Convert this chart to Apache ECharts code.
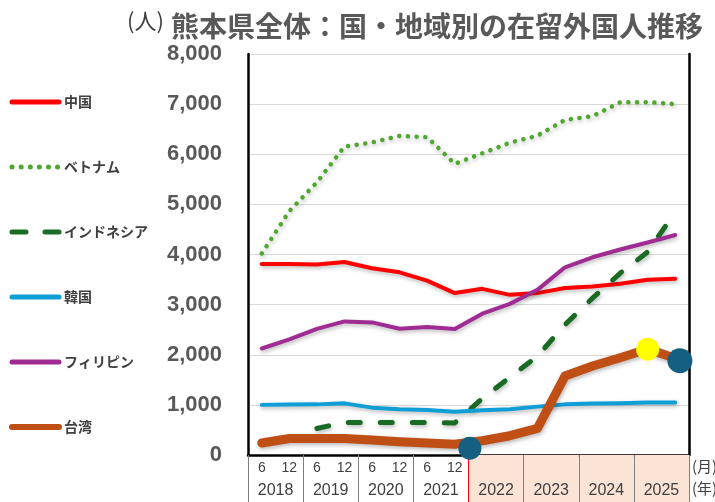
<!DOCTYPE html>
<html>
<head>
<meta charset="utf-8">
<script src="https://cdn.jsdelivr.net/npm/echarts@6/dist/echarts.min.js"></script>
<style>
  html, body { margin: 0; padding: 0; background: #fff; }
  #chart { width: 715px; height: 502px; }
</style>
</head>
<body>
<div id="chart"></div>
<script>
// 年・月（半年ごと）
const years = ['2018', '2019', '2020', '2021', '2022', '2023', '2024', '2025'];
const months = ['6', '12'];
const shadedYears = ['2022', '2023', '2024', '2025']; // 表の色付け部分

// 国・地域別の在留外国人数（人）
const seriesNames = ['中国', 'ベトナム', 'インドネシア', '韓国', 'フィリピン', '台湾'];
const china = [3810, 3810, 3800, 3850, 3725, 3645, 3480, 3230, 3315, 3195, 3230, 3330, 3360, 3415, 3495, 3515];
const vietnam = [4020, 4865, 5440, 6155, 6235, 6365, 6340, 5810, 6020, 6230, 6370, 6685, 6760, 7035, 7040, 7000];
const indonesia = [null, null, 530, 650, 650, 650, 650, 640, 1125, 1550, 1970, 2600, 3130, 3625, 4050, 4850];
const korea = [1000, 1005, 1010, 1030, 945, 915, 900, 865, 895, 915, 965, 1010, 1025, 1030, 1045, 1045];
const philippines = [2125, 2305, 2515, 2665, 2645, 2520, 2555, 2515, 2820, 3015, 3295, 3745, 3945, 4100, 4240, 4390];
const taiwan = [240, 330, 330, 330, 300, 265, 240, 215, 285, 385, 530, 1575, 1775, 1940, 2115, 1930];

// 強調マーカー（x は半年単位の位置, y は人数）
const markerX = [8.05, 14.5, 15.67];
const markerY = [135, 2110, 1880];
const markerColors = ['#156082', '#FFFF00', '#156082'];
const markerSizes = [23, 23, 25];

const categories = [];
years.forEach(y => months.forEach(m => categories.push(y + '/' + m)));

const colors = {
    china: '#FF0000',
    vietnam: '#4EA72E',
    indonesia: '#196B24',
    korea: '#0F9ED5',
    philippines: '#A02B93',
    taiwan: '#C04F15',
};
const shadow = { shadowBlur: 4, shadowColor: 'rgba(0,0,0,0.28)', shadowOffsetY: 2, shadowOffsetX: 1 };
const textGrey = '#595959';

function lineSeries(name, data, color, extra) {
    return {
        name: name,
        type: 'line',
        xAxisIndex: 0,
        yAxisIndex: 0,
        data: data,
        symbol: 'none',
        connectNulls: false,
        color: color,
        lineStyle: Object.assign({ color: color, width: 4, cap: 'round', join: 'round' }, shadow, extra || {}),
        z: 3,
    };
}

// 凡例の線スタイル（マーカーなし）
const legendLine = {
    '中国': { width: 5 },
    'ベトナム': { width: 5, type: [0.1, 9], cap: 'round' },
    'インドネシア': { width: 5, type: [14, 19], cap: 'round' },
    '韓国': { width: 5 },
    'フィリピン': { width: 5 },
    '台湾': { width: 6 },
};

const chart = echarts.init(document.getElementById('chart'), null, { renderer: 'canvas' });

const option = {
    animation: false,
    title: {
        text: '熊本県全体：国・地域別の在留外国人推移',
        left: 166,
        top: 7,
        textStyle: { fontSize: 28, fontWeight: 'bold', color: textGrey, fontFamily: 'Noto Sans CJK JP' },
    },
    legend: {
        orient: 'vertical',
        left: 9,
        top: 95,
        padding: 0,
        itemWidth: 47,
        itemHeight: 14,
        itemGap: 51,
        itemStyle: { opacity: 0 },
        textStyle: { fontSize: 14, fontWeight: 'bold', color: '#404040', fontFamily: 'Noto Sans CJK JP' },
        data: seriesNames.map(n => ({ name: n, lineStyle: Object.assign({ cap: 'round', shadowBlur: 0, shadowOffsetX: 0, shadowOffsetY: 0 }, legendLine[n]) })),
    },
    grid: [
        { left: 248, right: 26, top: 54, bottom: 47 },
        { left: 248, right: 26, top: 455, bottom: 0 },
    ],
    xAxis: [
        {
            type: 'category',
            gridIndex: 0,
            data: categories,
            position: 'bottom',
            axisLine: { lineStyle: { color: '#808080', width: 1 } },
            axisTick: { show: false },
            axisLabel: {
                interval: 0,
                margin: 6,
                fontSize: 14,
                color: '#404040',
                fontFamily: 'Liberation Sans',
                formatter: v => v.split('/')[1],
            },
            splitLine: { show: false },
        },
        {
            type: 'value',
            gridIndex: 0,
            min: 0,
            max: 16,
            position: 'top',
            axisLine: { show: true, lineStyle: { color: '#000', width: 2.5 } },
            axisTick: { show: false },
            axisLabel: { show: false },
            splitLine: { show: false },
        },
        {
            type: 'category',
            gridIndex: 1,
            data: years,
            position: 'bottom',
            z: 5,
            axisLine: { show: false },
            axisTick: { show: false },
            axisLabel: {
                inside: true,
                margin: 3,
                interval: 0,
                fontSize: 16,
                color: '#404040',
                fontFamily: 'Liberation Sans',
            },
            splitLine: {
                show: true,
                interval: 0,
                lineStyle: {
                    width: 1,
                    color: ['#7F7F7F', '#7F7F7F', '#7F7F7F', '#7F7F7F', '#FF0000', '#7F7F7F', '#7F7F7F', '#7F7F7F', '#7F7F7F'],
                },
            },
        },
    ],
    yAxis: [
        {
            type: 'value',
            gridIndex: 0,
            min: 0,
            max: 8000,
            interval: 1000,
            axisLine: { show: true, lineStyle: { color: '#000', width: 2.5 } },
            axisTick: { show: false },
            axisLabel: {
                margin: 26,
                fontSize: 22,
                fontWeight: 'bold',
                color: textGrey,
                fontFamily: 'Liberation Sans',
                formatter: v => v.toLocaleString('en-US'),
            },
            splitLine: { lineStyle: { color: '#D9D9D9', width: 1 } },
        },
        {
            type: 'value',
            gridIndex: 0,
            min: 0,
            max: 8000,
            position: 'right',
            axisLine: { show: true, lineStyle: { color: '#000', width: 2.5 } },
            axisTick: { show: false },
            axisLabel: { show: false },
            splitLine: { show: false },
        },
        {
            type: 'value',
            gridIndex: 1,
            min: 0,
            max: 1,
            show: false,
        },
    ],
    graphic: [
        { type: 'text', left: 127, top: 10, style: { text: '(人)', fontSize: 22, fill: '#404040', fontFamily: 'Noto Sans CJK JP' } },
        { type: 'text', left: 692, top: 459, style: { text: '(月)', fontSize: 15, fill: '#404040', fontFamily: 'Noto Sans CJK JP' } },
        { type: 'text', left: 692, top: 481, style: { text: '(年)', fontSize: 15, fill: '#404040', fontFamily: 'Noto Sans CJK JP' } },
    ],
    series: [
        lineSeries('中国', china, colors.china),
        lineSeries('ベトナム', vietnam, colors.vietnam, { width: 4.5, type: [0.1, 8.6] }),
        lineSeries('インドネシア', indonesia, colors.indonesia, { width: 5, type: [12, 20] }),
        lineSeries('韓国', korea, colors.korea),
        lineSeries('フィリピン', philippines, colors.philippines),
        lineSeries('台湾', taiwan, colors.taiwan, { width: 9 }),
        {
            name: '表',
            type: 'bar',
            xAxisIndex: 2,
            yAxisIndex: 2,
            barWidth: '100%',
            silent: true,
            itemStyle: { color: '#FBE3D6' },
            data: years.map(y => shadedYears.includes(y) ? 1 : null),
            z: 1,
        },
        {
            name: 'マーカー',
            type: 'scatter',
            xAxisIndex: 1,
            yAxisIndex: 0,
            silent: true,
            z: 6,
            data: markerX.map((x, i) => ({
                value: [x, markerY[i]],
                symbolSize: markerSizes[i],
                itemStyle: { color: markerColors[i], opacity: 1 },
            })),
        },
    ],
};

chart.setOption(option);
</script>
</body>
</html>
